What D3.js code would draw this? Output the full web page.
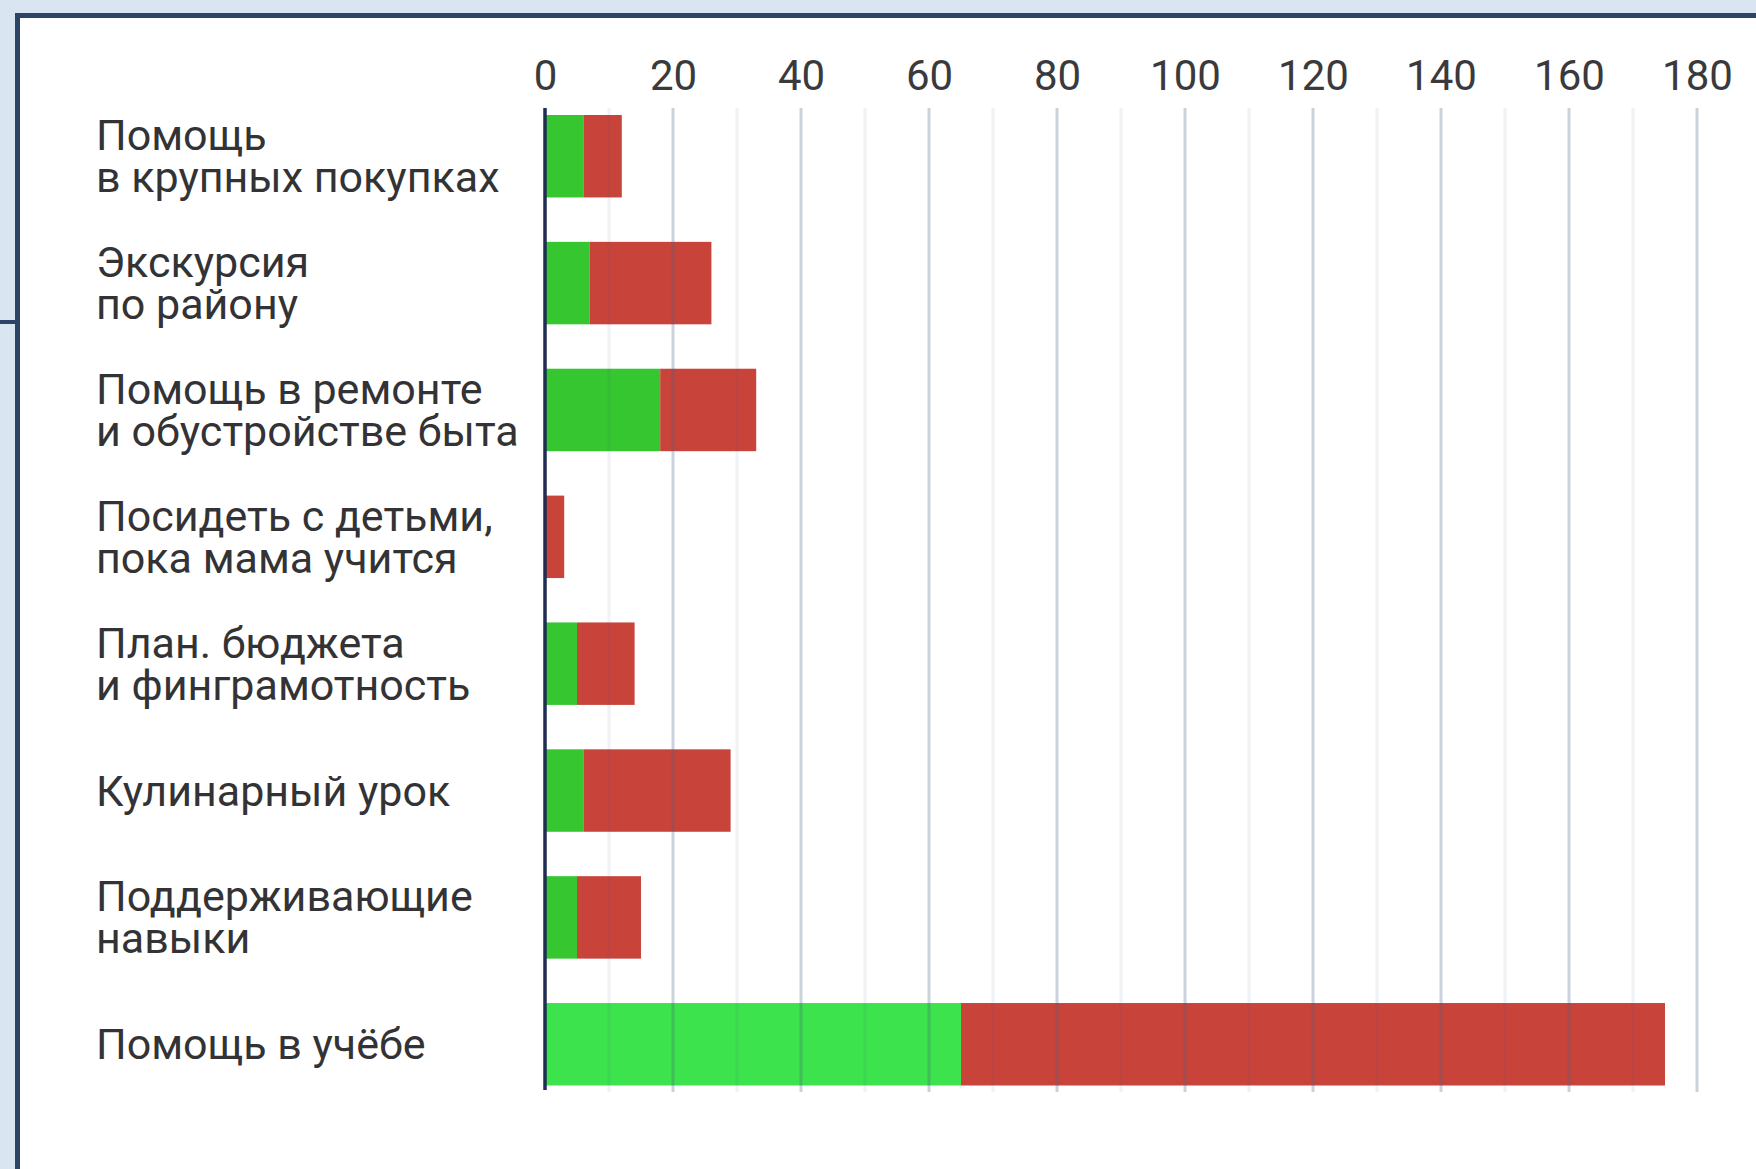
<!DOCTYPE html>
<html>
<head>
<meta charset="utf-8">
<script src="https://cdn.jsdelivr.net/npm/d3@7"></script>
<style>
  body { margin: 0; background: #dae5f2; }
  svg { display: block; }
</style>
</head>
<body>
<svg id="chart"></svg>
<script>
// categories, top to bottom
const categories = [
  "Помощь\nв крупных покупках",
  "Экскурсия\nпо району",
  "Помощь в ремонте\nи обустройстве быта",
  "Посидеть с детьми,\nпока мама учится",
  "План. бюджета\nи финграмотность",
  "Кулинарный урок",
  "Поддерживающие\nнавыки",
  "Помощь в учёбе"
];
const greenValues = [6, 7, 18, 0, 5, 6, 5, 65];
const redValues = [6, 19, 15, 3, 9, 23, 10, 110];
const tickValues = [0, 20, 40, 60, 80, 100, 120, 140, 160, 180];

const width = 1756, height = 1169;
const svg = d3.select("#chart").attr("width", width).attr("height", height);

// white panel with a navy border
svg.append("rect")
  .attr("x", 17.5).attr("y", 15.5)
  .attr("width", width + 20).attr("height", height + 20)
  .attr("fill", "#fff")
  .attr("stroke", "#2c4466")
  .attr("stroke-width", 5);
svg.append("line")
  .attr("x1", 0).attr("x2", 17).attr("y1", 322).attr("y2", 322)
  .attr("stroke", "#2c4466").attr("stroke-width", 4);

const x = d3.scaleLinear().domain([0, 180]).range([545, 1697]);
const y = d3.scaleBand().domain(d3.range(categories.length))
  .range([115, 1085.5]).paddingInner(0.35).paddingOuter(0);

const rows = categories.map((c, i) => ({ i, green: greenValues[i], red: redValues[i] }));
const stacked = d3.stack().keys(["green", "red"])(rows);
const colors = { green: "#35c630", red: "#c8443a" };

svg.append("g")
  .selectAll("g")
  .data(stacked)
  .join("g")
  .attr("fill", s => colors[s.key])
  .selectAll("rect")
  .data(s => s.map(d => Object.assign(d, { key: s.key })))
  .join("rect")
  .attr("x", d => x(d[0]))
  .attr("y", d => y(d.data.i))
  .attr("width", d => x(d[1]) - x(d[0]))
  .attr("height", y.bandwidth())
  // the last bar's green is brighter in the original
  .attr("fill", d => d.key === "green" && d.data.i === categories.length - 1 ? "#3ce34c" : null);

// grid lines drawn over bars
const gridTop = 108, gridBottom = 1092;
const minor = d3.range(10, 180, 20);
const major = d3.range(20, 181, 20);
svg.append("g").selectAll("line").data(minor).join("line")
  .attr("x1", d => x(d)).attr("x2", d => x(d))
  .attr("y1", gridTop).attr("y2", gridBottom)
  .attr("stroke", "rgba(70,95,130,0.08)").attr("stroke-width", 3);
svg.append("g").selectAll("line").data(major).join("line")
  .attr("x1", d => x(d)).attr("x2", d => x(d))
  .attr("y1", gridTop).attr("y2", gridBottom)
  .attr("stroke", "rgba(70,95,130,0.28)").attr("stroke-width", 3);

// zero axis line
svg.append("line")
  .attr("x1", x(0)).attr("x2", x(0))
  .attr("y1", gridTop).attr("y2", gridBottom - 2)
  .attr("stroke", "#1f2d52").attr("stroke-width", 3.5);

// top tick labels
const axis = svg.append("g")
  .attr("transform", "translate(0,90)")
  .call(d3.axisTop(x).tickValues(tickValues).tickSize(0).tickPadding(0));
axis.select(".domain").remove();
axis.selectAll("text")
  .attr("font-family", "Roboto, sans-serif")
  .attr("font-size", 42)
  .attr("fill", "#3a3a3d");

// category labels
const lineH = 42;
const labels = svg.append("g")
  .attr("font-family", "Roboto, sans-serif")
  .attr("font-size", 43)
  .attr("fill", "#333336");
categories.forEach((c, i) => {
  const lines = c.split("\n");
  const cy = y(i) + y.bandwidth() / 2;
  const first = cy - (lines.length - 1) * lineH / 2 + 15;
  const t = labels.append("text").attr("x", 96);
  lines.forEach((ln, k) => {
    t.append("tspan").attr("x", 96).attr("y", first + k * lineH).text(ln);
  });
});
</script>
</body>
</html>
